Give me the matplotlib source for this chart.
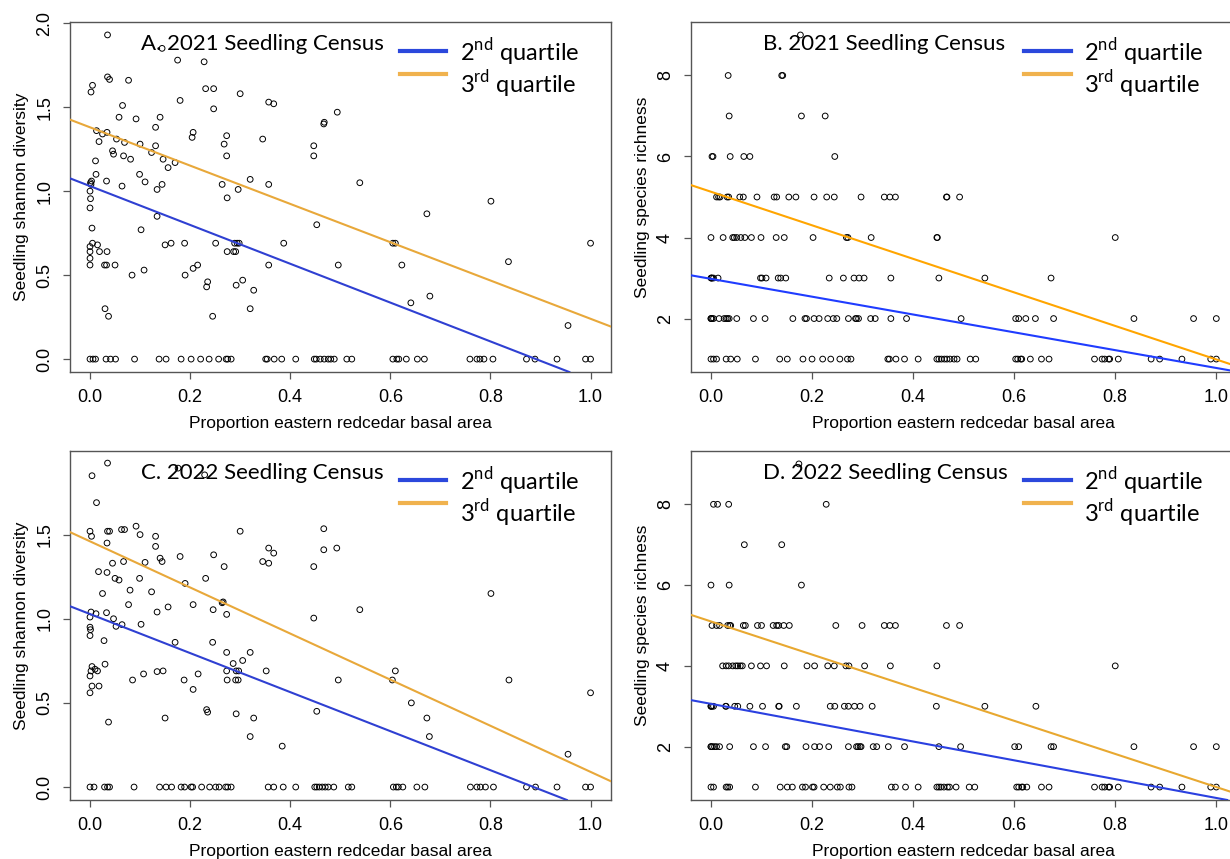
import matplotlib.pyplot as plt

plt.rcParams['font.family'] = ['Liberation Sans', 'DejaVu Sans']
plt.rcParams['mathtext.fontset'] = 'custom'
plt.rcParams['mathtext.rm'] = 'Lato'

# --- 2021 census, Shannon diversity (panel A) ---
a_x = [0.035, 0.144, 0.175, 0.228, 0.035, 0.039, 0.005, 0.002, 0.077, 0.231, 0.247, 0.30,
       0.065, 0.18, 0.247, 0.357, 0.367, 0.058, 0.092, 0.14, 0.131, 0.206, 0.204, 0.273,
       0.268, 0.273, 0.345, 0.013, 0.025, 0.034, 0.018, 0.053, 0.069, 0.10, 0.131, 0.045,
       0.047, 0.067, 0.081, 0.123, 0.146, 0.156, 0.17, 0.011, 0.012, 0.001, 0.002, 0.003,
       0.099, 0.11, 0.033, 0.064, 0.134, 0.144, 0.264, 0.296, 0.32, 0.274, 0.357, 0.0,
       0.001, 0.0, 0.004, 0.102, 0.134, 0.0, 0.0, 0.0, 0.0, 0.005, 0.015, 0.019, 0.034,
       0.029, 0.033, 0.05, 0.15, 0.162, 0.189, 0.251, 0.289, 0.294, 0.298, 0.274, 0.287,
       0.291, 0.357, 0.387, 0.453, 0.084, 0.108, 0.19, 0.206, 0.215, 0.235, 0.233, 0.305,
       0.292, 0.327, 0.32, 0.245, 0.03, 0.037, 0.447, 0.447, 0.467, 0.468, 0.494, 0.539,
       0.801, 0.673, 0.605, 0.61, 0.496, 0.623, 0.836, 1.0, 0.641, 0.679, 0.955]
a_y = [1.93, 1.85, 1.78, 1.77, 1.68, 1.665, 1.63, 1.59, 1.66, 1.61, 1.61, 1.58,
       1.51, 1.54, 1.49, 1.53, 1.52, 1.44, 1.43, 1.44, 1.38, 1.35, 1.32, 1.33,
       1.28, 1.21, 1.31, 1.36, 1.34, 1.35, 1.295, 1.31, 1.29, 1.28, 1.27, 1.24,
       1.22, 1.21, 1.19, 1.23, 1.19, 1.14, 1.17, 1.18, 1.10, 1.05, 1.04, 1.06,
       1.10, 1.055, 1.06, 1.03, 1.01, 1.04, 1.04, 1.01, 1.07, 0.96, 1.04, 1.0,
       0.955, 0.90, 0.78, 0.77, 0.85, 0.67, 0.64, 0.60, 0.56, 0.69, 0.68, 0.64, 0.64,
       0.56, 0.56, 0.56, 0.68, 0.69, 0.69, 0.69, 0.69, 0.69, 0.69, 0.64, 0.64,
       0.64, 0.56, 0.69, 0.80, 0.50, 0.53, 0.50, 0.54, 0.56, 0.46, 0.43, 0.47,
       0.44, 0.41, 0.30, 0.255, 0.30, 0.255, 1.27, 1.21, 1.40, 1.41, 1.47, 1.05,
       0.94, 0.865, 0.69, 0.69, 0.56, 0.56, 0.58, 0.69, 0.335, 0.375, 0.20]
a_zero_x = [0.0, 0.006, 0.011, 0.032, 0.041, 0.051, 0.089, 0.138, 0.152, 0.182, 0.202,
            0.221, 0.238, 0.257, 0.272, 0.275, 0.282, 0.351, 0.354, 0.368, 0.383, 0.411,
            0.448, 0.452, 0.46, 0.468, 0.476, 0.481, 0.488, 0.513, 0.523, 0.605, 0.613,
            0.617, 0.632, 0.654, 0.668, 0.759, 0.773, 0.779, 0.787, 0.805, 0.872, 0.889,
            0.933, 0.99, 1.0]

# --- 2022 census, Shannon diversity (panel C) ---
c_x = [0.035, 0.004, 0.176, 0.229, 0.013, 0.0, 0.003, 0.035, 0.039, 0.063, 0.069, 0.092,
       0.10, 0.131, 0.131, 0.034, 0.067, 0.045, 0.11, 0.14, 0.144, 0.18, 0.247, 0.268,
       0.30, 0.345, 0.357, 0.357, 0.367, 0.447, 0.467, 0.467, 0.017, 0.034, 0.05, 0.058,
       0.099, 0.19, 0.231, 0.025, 0.08, 0.123, 0.077, 0.156, 0.206, 0.264, 0.266, 0.246,
       0.273, 0.134, 0.0, 0.0, 0.001, 0.0, 0.002, 0.012, 0.033, 0.047, 0.052, 0.064,
       0.102, 0.028, 0.17, 0.245, 0.447, 0.273, 0.286, 0.305, 0.32, 0.273, 0.292, 0.297,
       0.274, 0.291, 0.296, 0.352, 0.0, 0.002, 0.004, 0.01, 0.015, 0.0, 0.004, 0.018,
       0.03, 0.085, 0.107, 0.134, 0.146, 0.188, 0.216, 0.206, 0.233, 0.235, 0.292, 0.327,
       0.32, 0.384, 0.453, 0.15, 0.037, 0.493, 0.539, 0.801, 0.496, 0.604, 0.61, 0.642,
       0.673, 0.678, 0.837, 1.0, 0.955]
c_y = [1.925, 1.85, 1.895, 1.855, 1.69, 1.52, 1.49, 1.52, 1.52, 1.53, 1.53, 1.55,
       1.50, 1.49, 1.43, 1.45, 1.34, 1.33, 1.335, 1.36, 1.34, 1.37, 1.38, 1.31,
       1.52, 1.34, 1.42, 1.33, 1.39, 1.31, 1.41, 1.535, 1.28, 1.275, 1.24, 1.23,
       1.24, 1.21, 1.24, 1.15, 1.17, 1.16, 1.084, 1.07, 1.084, 1.095, 1.10, 1.054,
       1.026, 1.04, 1.01, 0.95, 0.935, 0.90, 1.04, 1.03, 1.036, 1.0, 0.955, 0.965,
       0.967, 0.87, 0.86, 0.86, 1.004, 0.80, 0.734, 0.752, 0.80, 0.69, 0.69, 0.69,
       0.636, 0.636, 0.636, 0.69, 0.66, 0.69, 0.716, 0.70, 0.69, 0.56, 0.60, 0.60,
       0.73, 0.636, 0.672, 0.686, 0.69, 0.636, 0.672, 0.58, 0.46, 0.445, 0.435, 0.41,
       0.30, 0.243, 0.45, 0.41, 0.386, 1.42, 1.054, 1.15, 0.636, 0.636, 0.69, 0.50,
       0.41, 0.30, 0.636, 0.56, 0.195]
c_zero_x = [0.0, 0.008, 0.029, 0.035, 0.039, 0.088, 0.139, 0.152, 0.163, 0.182, 0.189,
            0.202, 0.205, 0.223, 0.239, 0.251, 0.258, 0.271, 0.275, 0.282, 0.356, 0.367,
            0.386, 0.411, 0.449, 0.453, 0.458, 0.464, 0.47, 0.476, 0.487, 0.516, 0.523,
            0.606, 0.612, 0.616, 0.625, 0.653, 0.669, 0.76, 0.773, 0.78, 0.79, 0.806,
            0.872, 0.89, 0.933, 0.99, 1.0]

# --- 2021 census, species richness (panel B): basal-area proportion per richness value ---
b_rich1 = [0.0, 0.005, 0.011, 0.03, 0.039, 0.052, 0.088, 0.136, 0.151, 0.182, 0.2, 0.221,
           0.237, 0.255, 0.27, 0.277, 0.35, 0.353, 0.366, 0.383, 0.41, 0.447, 0.451, 0.456,
           0.462, 0.467, 0.473, 0.481, 0.487, 0.513, 0.524, 0.603, 0.607, 0.613, 0.615,
           0.632, 0.654, 0.669, 0.759, 0.774, 0.779, 0.787, 0.789, 0.806, 0.871, 0.888,
           0.932, 0.989, 1.0]
b_rich2 = [0.0, 0.0, 0.002, 0.005, 0.016, 0.026, 0.03, 0.033, 0.036, 0.051, 0.084, 0.107,
           0.162, 0.186, 0.189, 0.204, 0.214, 0.231, 0.242, 0.249, 0.272, 0.286, 0.288,
           0.292, 0.316, 0.325, 0.356, 0.387, 0.495, 0.603, 0.609, 0.623, 0.642, 0.678,
           0.837, 0.955, 1.0]
b_rich3 = [0.0, 0.001, 0.002, 0.005, 0.014, 0.098, 0.101, 0.109, 0.133, 0.138, 0.148, 0.234,
           0.262, 0.283, 0.293, 0.303, 0.356, 0.451, 0.542, 0.673]
b_rich4 = [0.0, 0.024, 0.043, 0.046, 0.051, 0.059, 0.067, 0.08, 0.099, 0.129, 0.145, 0.202,
           0.268, 0.271, 0.317, 0.447, 0.448, 0.80]
b_rich5 = [0.011, 0.015, 0.018, 0.032, 0.035, 0.057, 0.064, 0.091, 0.125, 0.13, 0.154, 0.168,
           0.204, 0.229, 0.244, 0.297, 0.343, 0.354, 0.365, 0.466, 0.467, 0.492]
b_rich6 = [0.002, 0.004, 0.038, 0.065, 0.077, 0.245]
b_rich7 = [0.036, 0.179, 0.226]
b_rich8 = [0.034, 0.14, 0.142]
b_rich9 = [0.177]

# --- 2022 census, species richness (panel D) ---
d_rich1 = [0.0, 0.005, 0.03, 0.033, 0.037, 0.088, 0.137, 0.151, 0.161, 0.181, 0.187, 0.201,
           0.204, 0.223, 0.236, 0.25, 0.256, 0.273, 0.279, 0.357, 0.365, 0.385, 0.41, 0.447,
           0.451, 0.455, 0.461, 0.468, 0.472, 0.485, 0.511, 0.522, 0.605, 0.609, 0.615,
           0.617, 0.625, 0.654, 0.669, 0.759, 0.774, 0.779, 0.787, 0.789, 0.806, 0.871,
           0.888, 0.932, 0.989, 1.0]
d_rich2 = [0.0, 0.0, 0.003, 0.007, 0.011, 0.017, 0.037, 0.084, 0.108, 0.147, 0.15, 0.188,
           0.205, 0.215, 0.233, 0.272, 0.288, 0.291, 0.295, 0.297, 0.321, 0.328, 0.351,
           0.383, 0.451, 0.494, 0.601, 0.609, 0.673, 0.678, 0.837, 0.955, 1.0]
d_rich3 = [0.0, 0.0, 0.002, 0.005, 0.029, 0.03, 0.047, 0.053, 0.077, 0.102, 0.134, 0.135,
           0.169, 0.236, 0.245, 0.264, 0.272, 0.284, 0.295, 0.319, 0.446, 0.542, 0.643]
d_rich4 = [0.023, 0.03, 0.035, 0.043, 0.049, 0.053, 0.058, 0.062, 0.08, 0.098, 0.11, 0.145,
           0.19, 0.205, 0.231, 0.244, 0.267, 0.273, 0.304, 0.355, 0.447, 0.80]
d_rich5 = [0.002, 0.011, 0.017, 0.033, 0.037, 0.039, 0.064, 0.068, 0.092, 0.10, 0.123, 0.13,
           0.134, 0.144, 0.155, 0.247, 0.299, 0.343, 0.354, 0.365, 0.466, 0.492]
d_rich6 = [0.0, 0.036, 0.179]
d_rich7 = [0.066, 0.14]
d_rich8 = [0.005, 0.013, 0.035, 0.228]
d_rich9 = [0.174]

# fitted lines (intercept, slope) at the 2nd and 3rd quartile
a_q2, a_q3 = (1.03, -1.156), (1.38, -1.14)
b_q2, b_q3 = (2.98, -2.2), (5.13, -4.14)
c_q2, c_q3 = (1.028, -1.16), (1.46, -1.37)
d_q2, d_q3 = (3.06, -2.33), (5.1, -4.1)

titles = ["A. 2021 Seedling Census", "B. 2021 Seedling Census",
          "C. 2022 Seedling Census", "D. 2022 Seedling Census"]
xticks = [0.0, 0.2, 0.4, 0.6, 0.8, 1.0]

FRAME = '#555555'
LEG_BLUE, LEG_ORANGE = '#2b48dc', '#f0b24e'


def by_level(levels):
    xs, ys = [], []
    for value, row in enumerate(levels, start=1):
        xs += row
        ys += [value] * len(row)
    return xs, ys


def panel(ax, xs, ys, q2, q3, blue, orange, title, ylabel, yticks, ylim):
    ax.scatter(xs, ys, s=17, facecolors='none', edgecolors='black', linewidths=0.7, zorder=2)
    ax.axline((0, q2[0]), slope=q2[1], color=blue, lw=1.5, zorder=3)
    ax.axline((0, q3[0]), slope=q3[1], color=orange, lw=1.5, zorder=3)
    ax.set_xlim(-0.04, 1.04)
    ax.set_ylim(*ylim)
    ax.set_xticks(xticks)
    ax.set_xticklabels([f"{t:.1f}" for t in xticks])
    ax.set_yticks(yticks)
    ax.set_yticklabels([f"{t:.1f}" if isinstance(t, float) else str(t) for t in yticks],
                       rotation=90, va='center')
    ax.tick_params(length=5, width=0.9, color=FRAME, labelsize=13, pad=7)
    for s in ax.spines.values():
        s.set_color(FRAME)
        s.set_linewidth(1.0)
    ax.set_xlabel("Proportion eastern redcedar basal area", fontsize=12.5)
    ax.xaxis.set_label_coords(0.5, -0.125)
    ax.set_ylabel(ylabel, fontsize=12.5)
    ax.yaxis.set_label_coords(-0.075, 0.5)

    # title and legend inside the plot region
    ax.text(0.132, 0.92, title, transform=ax.transAxes, family='Lato', fontsize=16,
            va='baseline', ha='left', zorder=4)
    ax.plot([0.61, 0.696], [0.918, 0.918], transform=ax.transAxes, color=LEG_BLUE, lw=3)
    ax.plot([0.61, 0.696], [0.852, 0.852], transform=ax.transAxes, color=LEG_ORANGE, lw=3)
    ax.text(0.721, 0.889, r"2$^{\mathrm{nd}}$ quartile", transform=ax.transAxes,
            family='Lato', fontsize=17, va='baseline')
    ax.text(0.721, 0.798, r"3$^{\mathrm{rd}}$ quartile", transform=ax.transAxes,
            family='Lato', fontsize=17, va='baseline')


fig = plt.figure(figsize=(12.3, 8.59), dpi=100)
ax_a = fig.add_axes([0.0569, 0.5669, 0.4395, 0.4075])
ax_b = fig.add_axes([0.5616, 0.5669, 0.4437, 0.4075])
ax_c = fig.add_axes([0.0569, 0.0687, 0.4395, 0.4063])
ax_d = fig.add_axes([0.5616, 0.0687, 0.4437, 0.4063])

panel(ax_a, a_x + a_zero_x, a_y + [0.0] * len(a_zero_x), a_q2, a_q3, '#2f40d2', '#e8a83a',
      titles[0], "Seedling shannon diversity", [0.0, 0.5, 1.0, 1.5, 2.0], (-0.077, 2.007))

bx, by = by_level([b_rich1, b_rich2, b_rich3, b_rich4, b_rich5, b_rich6, b_rich7, b_rich8, b_rich9])
panel(ax_b, bx, by, b_q2, b_q3, '#1f3cff', '#ffa500',
      titles[1], "Seedling species richness", [2, 4, 6, 8], (0.68, 9.32))

panel(ax_c, c_x + c_zero_x, c_y + [0.0] * len(c_zero_x), c_q2, c_q3, '#2f40d2', '#e8a83a',
      titles[2], "Seedling shannon diversity", [0.0, 0.5, 1.0, 1.5], (-0.077, 1.997))

dx, dy = by_level([d_rich1, d_rich2, d_rich3, d_rich4, d_rich5, d_rich6, d_rich7, d_rich8, d_rich9])
panel(ax_d, dx, dy, d_q2, d_q3, '#2a40e0', '#e8a830',
      titles[3], "Seedling species richness", [2, 4, 6, 8], (0.68, 9.32))

fig.savefig("out.png", dpi=100)
